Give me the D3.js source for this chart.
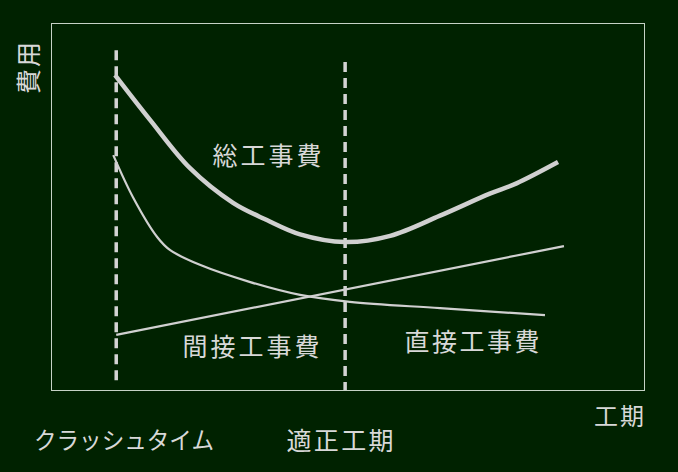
<!DOCTYPE html>
<html>
<head>
<meta charset="utf-8">
<script src="https://cdn.jsdelivr.net/npm/d3@7"></script>
<style>
html,body{margin:0;padding:0;background:#002200;}
svg{display:block;}
text{font-family:"Noto Sans CJK JP","Noto Sans",sans-serif;fill:#d8d8d8;}
</style>
</head>
<body>
<svg id="chart" width="678" height="472"></svg>
<script>
// Duration (x, 0-100) and cost (y, 0-100) values
const totalX    = [10.8, 16.7, 23.4, 30.7, 36.4, 42.0, 49.6, 57.2, 65.6, 74.0, 78.5, 85.5];
const totalY    = [85.8, 73.6, 60.5, 51.0, 46.3, 42.4, 40.3, 42.0, 47.5, 53.5, 56.3, 62.1];
const directX   = [10.5, 13.8, 17.9, 20.1, 25.1, 33.6, 42.0, 50.4, 65.6, 83.3];
const directY   = [64.0, 52.6, 41.7, 38.1, 34.1, 29.4, 25.9, 24.0, 22.3, 20.4];
const indirectX = [11.0, 86.5];
const indirectY = [15.0, 39.2];
const crashX = 11.0, crashTop = 92.6, crashBottom = 2.5;
const optimalX = 49.6, optimalTop = 89.4, optimalBottom = 0;
const seriesLabels = ["総工事費", "間接工事費", "直接工事費"];
const axisLabels = {y: "費用", x: "工期"};
const markerLabels = ["クラッシュタイム", "適正工期"];

const svg = d3.select("#chart");
const W = 678, H = 472;
const plot = {left: 51, top: 23, right: 644, bottom: 390};
svg.append("rect").attr("width", W).attr("height", H).attr("fill", "#002200");

const x = d3.scaleLinear().domain([0, 100]).range([plot.left, plot.right]);
const y = d3.scaleLinear().domain([0, 100]).range([plot.bottom, plot.top]);

svg.append("rect")
  .attr("x", plot.left + 0.5).attr("y", plot.top + 0.5)
  .attr("width", plot.right - plot.left).attr("height", plot.bottom - plot.top)
  .attr("fill", "none").attr("stroke", "#c6d2c6").attr("stroke-width", 1);

// dashed reference lines
[[crashX, crashTop, crashBottom], [optimalX, optimalTop, optimalBottom]].forEach(d => {
  svg.append("line")
    .attr("x1", x(d[0])).attr("x2", x(d[0]))
    .attr("y1", y(d[1])).attr("y2", y(d[2]))
    .attr("stroke", "#d4d4d4").attr("stroke-width", 3.5)
    .attr("stroke-dasharray", "10,6");
});

const line = d3.line().x(d => x(d[0])).y(d => y(d[1])).curve(d3.curveCatmullRom.alpha(0.5));
const zip = (a, b) => a.map((v, i) => [v, b[i]]);

svg.append("path").datum(zip(indirectX, indirectY)).attr("d", line)
  .attr("fill", "none").attr("stroke", "#d0d0d0").attr("stroke-width", 2.2);
svg.append("path").datum(zip(directX, directY)).attr("d", line)
  .attr("fill", "none").attr("stroke", "#d0d0d0").attr("stroke-width", 2.2);
svg.append("path").datum(zip(totalX, totalY)).attr("d", line)
  .attr("fill", "none").attr("stroke", "#d0d0d0").attr("stroke-width", 4.5);

function label(txt, cx, cy, len, size, squeeze, rotate) {
  const t = svg.append("text")
    .attr("x", cx).attr("y", cy)
    .attr("text-anchor", "middle")
    .attr("dominant-baseline", "central")
    .attr("font-size", size)
    .attr("textLength", len)
    .attr("lengthAdjust", squeeze ? "spacingAndGlyphs" : "spacing")
    .text(txt);
  if (rotate) t.attr("transform", `rotate(-90,${cx},${cy})`);
  return t;
}
label(seriesLabels[0], 267, 154, 109, 25);
label(seriesLabels[1], 251, 344.5, 137, 25);
label(seriesLabels[2], 472, 339.5, 135, 25);
label(markerLabels[0], 124, 438.5, 180, 24, true);
label(markerLabels[1], 340, 439, 107, 25);
label(axisLabels.x, 619, 414, 50, 24);
label(axisLabels.y, 27, 68, 52, 25, false, true);
</script>
</body>
</html>
